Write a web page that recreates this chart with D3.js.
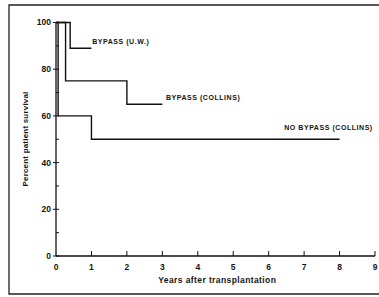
<!DOCTYPE html>
<html>
<head>
<meta charset="utf-8">
<script src="https://cdn.jsdelivr.net/npm/d3@7"></script>
<style>
	body { margin:0; background:#fff; }
	svg text { font-family:"Liberation Sans", Arial, sans-serif; font-weight:bold; fill:#151515; }
</style>
</head>
<body>
<svg id="chart-1" width="379" height="297"></svg>
<script>
// Survival steps: [year, percent]
const bypassUW = [[0,100],[0.4,100],[0.4,89],[1,89]];
const bypassCollins = [[0,100],[0.27,100],[0.27,75],[2,75],[2,65],[3,65]];
const noBypassCollins = [[0,100],[0.06,100],[0.06,60],[1,60],[1,50],[8,50]];

const seriesLabels = ['BYPASS (U.W.)','BYPASS (COLLINS)','NO BYPASS (COLLINS)'];
const xTicks = [0,1,2,3,4,5,6,7,8,9];
const yTicks = [0,20,40,60,80,100];
const yMinor = [10,30,50,70,90];

const svg = d3.select('svg#chart-1');

const margin = {top:22.5, right:4, bottom:41, left:56};

const x = d3.scaleLinear().domain([0,9]).range([margin.left, 375]);
const y = d3.scaleLinear().domain([0,100]).range([256, margin.top]);

// frame
svg.append('path')
	.attr('d','M380,5 L9,5 L9,294 L380,294')
	.attr('fill','none').attr('stroke','#222').attr('stroke-width',1.3);

const g = svg.append('g');

// axes lines
g.append('line').attr('x1',x(0)).attr('x2',x(9)).attr('y1',y(0)).attr('y2',y(0))
	.attr('stroke','#111').attr('stroke-width',1.3);
g.append('line').attr('x1',x(0)).attr('x2',x(0)).attr('y1',y(0)).attr('y2',y(100))
	.attr('stroke','#111').attr('stroke-width',1.3);

// y ticks
g.selectAll('.ytick').data(yTicks).enter().append('line')
	.attr('x1',x(0)-3).attr('x2',x(0)+3)
	.attr('y1',d=>y(d)).attr('y2',d=>y(d))
	.attr('stroke','#111').attr('stroke-width',1);
g.selectAll('.ymin').data(yMinor).enter().append('line')
	.attr('x1',x(0)).attr('x2',x(0)+3)
	.attr('y1',d=>y(d)).attr('y2',d=>y(d))
	.attr('stroke','#111').attr('stroke-width',1);
g.selectAll('.ylab').data(yTicks).enter().append('text')
	.attr('x',x(0)-5).attr('y',d=>y(d)).attr('dy','0.35em')
	.attr('text-anchor','end').attr('font-size',8.5)
	.text(d=>d);

// x ticks
g.selectAll('.xtick').data(xTicks.slice(1)).enter().append('line')
	.attr('x1',d=>x(d)).attr('x2',d=>x(d))
	.attr('y1',y(0)).attr('y2',y(0)-5)
	.attr('stroke','#111').attr('stroke-width',1);
g.selectAll('.xlab').data(xTicks).enter().append('text')
	.attr('x',d=>x(d)).attr('y',y(0)+11).attr('dy','0.35em')
	.attr('text-anchor','middle').attr('font-size',8.5)
	.text(d=>d);

// axis titles
svg.append('text')
	.attr('x',x(4.55)).attr('y',280).attr('dy','0.35em')
	.attr('text-anchor','middle').attr('font-size',8.5)
	.attr('letter-spacing',0.4)
	.text('Years after transplantation');
svg.append('text')
	.attr('transform','translate(25,139) rotate(-90)')
	.attr('dy','0.35em')
	.attr('text-anchor','middle').attr('font-size',8)
	.attr('letter-spacing',0.2)
	.text('Percent patient survival');

// survival steps
const line = d3.line().x(d=>x(d[0])).y(d=>y(d[1]));
[bypassUW, bypassCollins, noBypassCollins].forEach(s=>{
	g.append('path').datum(s)
		.attr('d',line)
		.attr('fill','none').attr('stroke','#111').attr('stroke-width',1.4);
});

// series labels
const labelPos = [[1.02,92],[3.1,67.7],[6.44,54.8]];
svg.selectAll('.slab').data(seriesLabels).enter().append('text')
	.attr('x',(d,i)=>x(labelPos[i][0]))
	.attr('y',(d,i)=>y(labelPos[i][1]))
	.attr('dy','0.35em')
	.attr('font-size',7)
	.attr('letter-spacing',0.55)
	.text(d=>d);
</script>
</body>
</html>
